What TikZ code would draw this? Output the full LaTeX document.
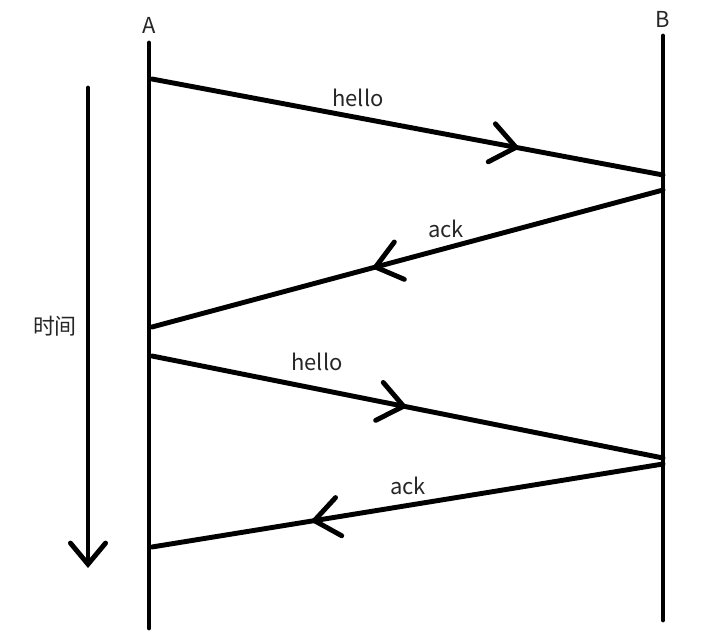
\documentclass[tikz,border=0pt]{standalone}
\usepackage{fontspec}
\setmainfont{Noto Sans CJK SC}
\usepackage{tikz}
\usetikzlibrary{arrows.meta, decorations.markings}

\tikzset{
    msg/.style={line width=2.8pt, line cap=round,
        decoration={markings, mark=at position #1 with {\arrow{Straight Barb[length=14pt, width=22pt, line cap=round]}}},
        postaction={decorate}},
    lbl/.style={font=\fontsize{12.5}{14}\selectfont, text=black!85}
}

\begin{document}
\begin{tikzpicture}[x=0.02cm, y=-0.02cm, line width=2.8pt]
        \useasboundingbox (0,0) rectangle (728,635);

        % 两条时间线
        \node[lbl] (A) at (149,25) {A};
        \node[lbl] (B) at (663,19) {B};
        \coordinate (Atop) at (149,43);
        \coordinate (Abot) at (149,628);
        \coordinate (Btop) at (663,36);
        \coordinate (Bbot) at (663,620);
        \draw[line cap=round] (Atop) -- (Abot);
        \draw[line cap=round] (Btop) -- (Bbot);

        % 时间箭头
        \coordinate (Ttop) at (88,88);
        \coordinate (Tbot) at (88,568);
        \draw[line cap=round, -{Straight Barb[length=12pt, width=20pt, line cap=round]}] (Ttop) -- (Tbot);
        \node[lbl] (time) at (55,326) {时间};

        % 消息端点
        \coordinate (A1) at (152,79);
        \coordinate (B1) at (663,175);
        \coordinate (B2) at (663,190);
        \coordinate (A2) at (152,327);
        \coordinate (A3) at (152,356);
        \coordinate (B3) at (663,458);
        \coordinate (B4) at (663,464);
        \coordinate (A4) at (152,547);

        % 第一次 hello / ack
        \draw[msg=0.72] (A1) -- (B1);
        \node[lbl] (hello1) at (358,98) {hello};
        \draw[msg=0.57] (B2) -- (A2);
        \node[lbl] (ack1) at (446,229) {ack};

        % 第二次 hello / ack
        \draw[msg=0.50] (A3) -- (B3);
        \node[lbl] (hello2) at (317,362) {hello};
        \draw[msg=0.69] (B4) -- (A4);
        \node[lbl] (ack2) at (408,486) {ack};
\end{tikzpicture}
\end{document}
